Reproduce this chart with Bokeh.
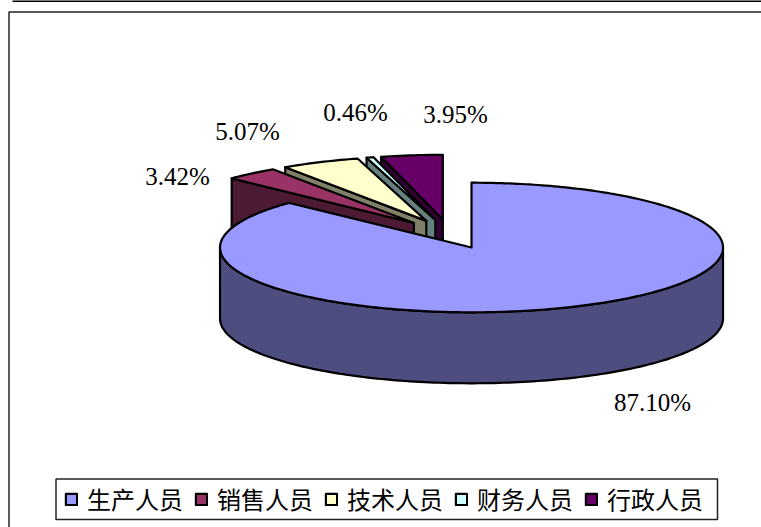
import numpy as np
from bokeh.plotting import figure
from bokeh.models import Range1d, Legend, LegendItem
from bokeh.embed import file_html
from bokeh.resources import INLINE
from bokeh.core.properties import value

categories = ["生产人员", "销售人员", "技术人员", "财务人员", "行政人员"]
shares = [87.10, 3.42, 5.07, 0.46, 3.95]
top_colors = ["#9999FF", "#993366", "#FFFFCC", "#CCFFFF", "#660066"]
side_colors = ["#4D4D80", "#4D1A33", "#808066", "#668080", "#330033"]

W, H = 761, 527
CX, CY, RX, RY, DEPTH = 449.2, 233.6, 251.5, 64.8, 71.0
EXPLODE_X, EXPLODE_Y = 0.22, 0.225
LABEL_POS = [(652, 402), (177, 176), (247, 131), (355, 112), (455, 114)]

p = figure(width=W, height=H, x_range=Range1d(0, W), y_range=Range1d(H, 0),
           output_backend="svg", toolbar_location=None, min_border=0,
           x_axis_type=None, y_axis_type=None, outline_line_color=None)
p.grid.visible = False
p.styles = {"position": "absolute", "left": "0", "top": "0"}

# page frame
p.line([12, W], [0.5, 0.5], line_color="black", line_width=2)
p.line([8.5, 8.5, W], [H, 11.5, 11.5], line_color="#222222", line_width=1.5)

edges = np.cumsum([0] + shares) / sum(shares) * 2 * np.pi
LW = 2.2
tops = [None] * len(shares)


def rim(cx, cy, a):
    return cx + RX * np.sin(a), cy - RY * np.cos(a)


def draw_slice(i):
    a0, a1 = edges[i], edges[i + 1]
    mid = (a0 + a1) / 2
    cx = CX + EXPLODE_X * RX * np.sin(mid)
    cy = CY - EXPLODE_Y * RY * np.cos(mid)
    kw = dict(line_color="black", line_width=LW, line_join="round")
    # radial wall at the start angle (visible for the small slices)
    if i > 0:
        rx, ry = rim(cx, cy, a0)
        p.patch([cx, rx, rx, cx], [cy, ry, ry + DEPTH, cy + DEPTH],
                fill_color=side_colors[i], **kw)
    # outer wall, front half only
    lo, hi = max(a0, np.pi / 2), min(a1, 3 * np.pi / 2)
    if hi > lo:
        t = np.linspace(lo, hi, 160)
        xs, ys = rim(cx, cy, t)
        p.patch(np.r_[xs, xs[::-1]], np.r_[ys, ys[::-1] + DEPTH],
                fill_color=side_colors[i], **kw)
    # top face
    t = np.linspace(a0, a1, max(int((a1 - a0) * 60), 6))
    xs, ys = rim(cx, cy, t)
    tops[i] = p.patch(np.r_[cx, xs], np.r_[cy, ys], fill_color=top_colors[i], **kw)


for i in [4, 3, 2, 1, 0]:
    draw_slice(i)

p.text([x for x, _ in LABEL_POS], [y for _, y in LABEL_POS],
       text=[f"{v:.2f}%" for v in shares],
       text_font=value("Liberation Serif"), text_font_size="25px",
       text_color="black", text_align="center", text_baseline="middle")

# legend frame, then the legend proper without its own border
p.quad(left=[55.5], right=[717], top=[478.5], bottom=[519],
       fill_color="white", line_color="#222222", line_width=1.5)
legend = Legend(items=[LegendItem(label=c, renderers=[r]) for c, r in zip(categories, tops)],
                orientation="horizontal", location=(64, 11), margin=0, padding=0,
                spacing=11, glyph_width=14, glyph_height=14, label_standoff=9,
                label_text_font="Noto Sans CJK SC", label_text_font_size="24px",
                label_text_color="black", border_line_color=None,
                background_fill_alpha=0)
p.add_layout(legend)

open("out.html", "w").write(file_html(p, INLINE))
